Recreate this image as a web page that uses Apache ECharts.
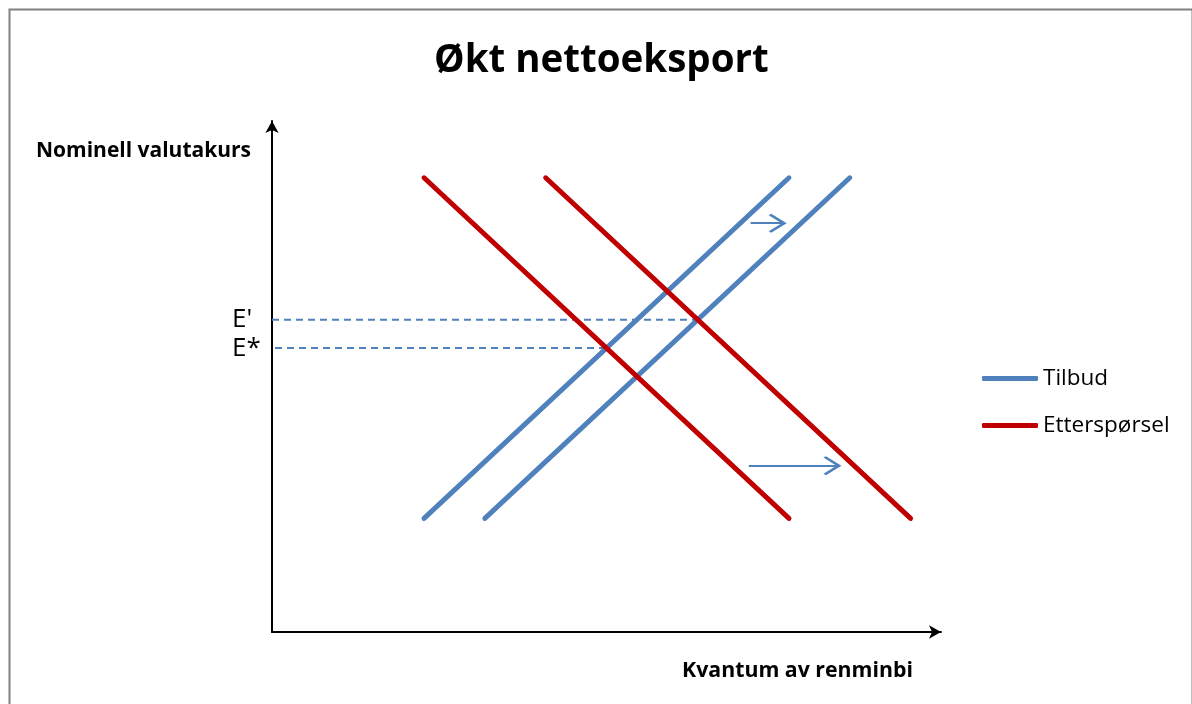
<!DOCTYPE html>
<html>
<head>
<meta charset="utf-8">
<script src="https://cdn.jsdelivr.net/npm/echarts@6/dist/echarts.min.js"></script>
<style>
html,body{margin:0;padding:0;background:#fff;}
#chart{width:1192px;height:704px;}
</style>
</head>
<body>
<div id="chart"></div>
<script>
// Data (chart units)
const titleText = 'Økt nettoeksport';
const yAxisName = 'Nominell valutakurs';
const xAxisName = 'Kvantum av renminbi';
const supplyName = 'Tilbud';
const demandName = 'Etterspørsel';
const supply1 = [[2.5, 2], [8.5, 8]];
const supply2 = [[3.5, 2], [9.5, 8]];
const demand1 = [[2.5, 8], [8.5, 2]];
const demand2 = [[4.5, 8], [10.5, 2]];
const eStar = [[0.05, 5], [5.5, 5]];
const ePrime = [[0, 5.5], [7, 5.5]];
const arrowTop = [[7.87, 7.2], [8.43, 7.2]];
const arrowBottom = [[7.84, 2.93], [9.33, 2.93]];
const tickLabels = {5: 'E*', 5.5: "E'"};

const BLUE = '#4F81BD', RED = '#C00000';
const FONT = '"Open Sans", Lato, sans-serif';
const chevron = 'path://M10,0 L20,15.5 L18.5,18 L10,5 L1.5,18 L0,15.5 Z';

const chart = echarts.init(document.getElementById('chart'), null, {renderer: 'canvas'});

function lineSeries(name, data, color) {
  return {
    name: name, type: 'line', data: data, symbol: 'none', z: 5,
    lineStyle: {color: color, width: 5, cap: 'round'},
    itemStyle: {color: color}, silent: true
  };
}

function arrowLine(d) {
  return [{coord: d[0]}, {coord: d[1]}];
}

chart.setOption({
  animation: false,
  backgroundColor: '#fff',
  title: {
    text: titleText, left: 429, top: 37,
    textStyle: {fontFamily: FONT, fontWeight: 'bold', fontSize: 38.5, color: '#000'}
  },
  legend: {
    data: [supplyName, demandName],
    orient: 'vertical', left: 977, top: 362,
    itemWidth: 56, itemHeight: 5, itemGap: 24,
    icon: 'roundRect',
    textStyle: {fontFamily: FONT, fontSize: 22.5, color: '#000', padding: [0, 0, 0, 0]}
  },
  grid: {left: 272, right: 251, top: 121, bottom: 72, containLabel: false},
  xAxis: {
    type: 'value', min: 0, max: 11,
    axisLine: {show: true, onZero: false, symbol: ['none', 'arrow'], symbolSize: [10, 12],
      lineStyle: {color: '#000', width: 2}},
    axisTick: {show: false}, axisLabel: {show: false}, splitLine: {show: false}
  },
  yAxis: {
    type: 'value', min: 0, max: 9, interval: 0.5,
    name: yAxisName, nameLocation: 'end', nameGap: -30,
    nameTextStyle: {fontFamily: FONT, fontWeight: 'bold', fontSize: 21, color: '#000',
      align: 'right', verticalAlign: 'middle', padding: [0, 21, 0, 0]},
    axisLine: {show: true, onZero: false, symbol: ['none', 'arrow'], symbolSize: [10, 12],
      lineStyle: {color: '#000', width: 2}},
    axisTick: {show: false}, splitLine: {show: false},
    axisLabel: {
      show: true, margin: 40, align: 'left', fontFamily: FONT, fontSize: 26, color: '#000',
      formatter: function (v) { return tickLabels[v] || ''; }
    }
  },
  graphic: [
    {
      type: 'rect', left: 7, top: 7, z: 100, silent: true,
      shape: {width: 1183, height: 720},
      style: {fill: 'none', stroke: '#808080', lineWidth: 2}
    },
    {
      type: 'text', x: 913, y: 671, z: 100, silent: true,
      style: {text: xAxisName, fill: '#000', font: 'bold 21.3px "Open Sans", Lato, sans-serif',
        textAlign: 'right', textVerticalAlign: 'middle'}
    }
  ],
  series: [
    {
      name: 'ePrime', type: 'line', data: ePrime, symbol: 'none', z: 2, silent: true,
      lineStyle: {color: BLUE, width: 2, type: [7, 5]}
    },
    {
      name: 'eStar', type: 'line', data: eStar, symbol: 'none', z: 2, silent: true,
      lineStyle: {color: BLUE, width: 2, type: [7, 5]}
    },
    lineSeries(supplyName, supply1, BLUE),
    lineSeries(supplyName, supply2, BLUE),
    lineSeries(demandName, demand1, RED),
    lineSeries(demandName, demand2, RED),
    {
      name: 'arrows', type: 'line', data: [], symbol: 'none', z: 6,
      markLine: {
        silent: true, animation: false,
        symbol: ['none', chevron], symbolSize: [19, 18], symbolOffset: [[0, 0], [0, 7]],
        label: {show: false},
        lineStyle: {color: BLUE, width: 2, type: 'solid'},
        emphasis: {disabled: true},
        data: [arrowLine(arrowTop), arrowLine(arrowBottom)]
      }
    }
  ]
});
</script>
</body>
</html>
